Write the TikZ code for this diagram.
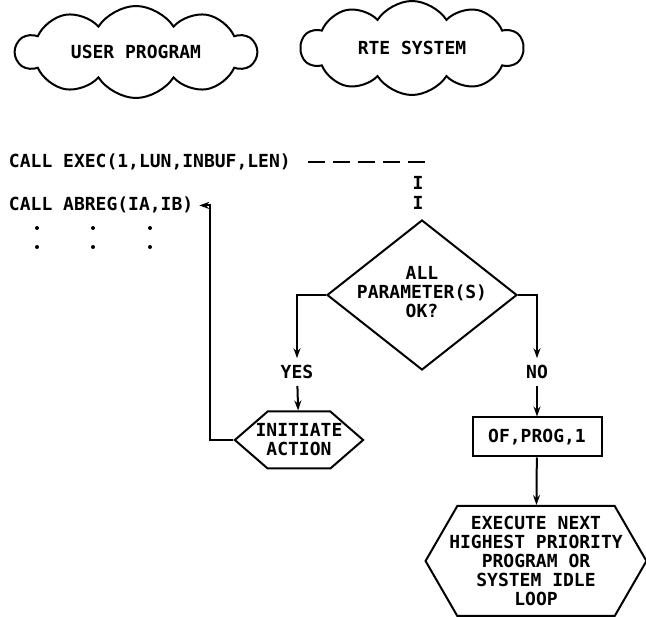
\documentclass[tikz,border=0pt]{standalone}
\usepackage{fontspec}
\setmainfont{DejaVu Sans Mono}
\usetikzlibrary{positioning, shapes.geometric, shapes.symbols, arrows.meta}

\begin{document}
\begin{tikzpicture}[x=1pt, y=-1pt, line width=2pt,
	every node/.style={font=\fontsize{18}{19}\selectfont\bfseries, inner sep=0pt},
	puff/.style={draw, cloud, cloud puffs=10, cloud puff arc=115, cloud ignores aspect},
	decision/.style={draw, diamond, minimum width=190pt, minimum height=150pt},
	hexbox/.style={draw, signal, signal to=west and east, align=center},
	procbox/.style={draw, rectangle, minimum width=129pt, minimum height=39pt},
	branch/.style={inner sep=6pt},
	flow/.style={-{Stealth[length=10pt, width=7pt]}},
	dashline/.style={dash pattern=on 17pt off 8pt}]
	\useasboundingbox (0,0) rectangle (646,617);
	
	\node[puff, minimum width=240pt, minimum height=92pt] (user) at (136,52) {USER PROGRAM};
	\node[puff, minimum width=222pt, minimum height=94pt] (rte) at (412,48) {RTE SYSTEM};
	
	\node[anchor=base west] (exec) at (8,168) {CALL EXEC(1,LUN,INBUF,LEN)};
	\node[anchor=base west] (abreg) at (8,211) {CALL ABREG(IA,IB)};
	\foreach \r in {228,247}{
		\foreach \c in {37,93,150}{
			\fill (\c,\r) circle (2pt);
		}
	}
	\coordinate (dashend) at (427,164);
	\draw[dashline] ([xshift=16pt]exec.east) -- (exec.east -| dashend);
	\node (bara) at (418,183) {I};
	\node (barb) at (418,203) {I};
	
	\node[decision] (ok) at (422,295) {};
	\node[align=center] (oktext) at (422,292) {ALL\\PARAMETER(S)\\OK?};
	
	\node[branch] (yes) at (297,372) {YES};
	\node[hexbox, inner xsep=-12pt, minimum height=57pt, signal pointer angle=82] (init) at (299,440) {INITIATE\\ACTION};
	\draw[flow] (ok.west) -| (yes.north);
	\draw[flow] (yes) -- (init);
	\draw[flow] (init.west) -- ++(-23,0) |- ([xshift=5pt]abreg.east);
	
	\node[branch] (no) at (537,372) {NO};
	\node[procbox] (prog) at (537,437) {OF,PROG,1};
	\node[hexbox, inner xsep=-8pt, minimum height=110pt, signal pointer angle=120] (next) at (536,561) {EXECUTE NEXT\\HIGHEST PRIORITY\\PROGRAM OR\\SYSTEM IDLE\\LOOP};
	\draw[flow] (ok.east) -| (no.north);
	\draw[flow] (no) -- (prog);
	\draw[flow] (prog) -- (next);
\end{tikzpicture}
\end{document}
